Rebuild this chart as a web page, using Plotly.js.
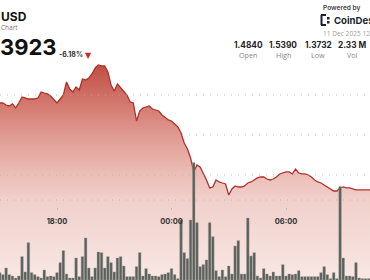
<!DOCTYPE html>
<html>
<head>
<meta charset="utf-8">
<script src="https://cdn.plot.ly/plotly-3.0.1.min.js"></script>
<style>
html,body{margin:0;padding:0;background:#fff;}
#chart{width:370px;height:280px;}
</style>
</head>
<body>
<div id="chart"></div>
<script>
// ---- data (10-minute slots starting 2025-12-10 15:00 UTC) ----
const startTimeUTC = [2025, 11, 10, 15, 0];
const stepMinutes = 10;

const prices = [
  1.4900, 1.4900, 1.4875, 1.4863, 1.4888, 1.4838, 1.4900, 1.4975, 1.4963, 1.4950,
  1.4950, 1.4950, 1.4963, 1.5038, 1.5025, 1.5013, 1.4988, 1.4938, 1.4900, 1.4950,
  1.5000, 1.5163, 1.5075, 1.5038, 1.5100, 1.5063, 1.5200, 1.5188, 1.5213, 1.5263,
  1.5338, 1.5375, 1.5363, 1.5363, 1.5288, 1.5125, 1.5050, 1.5138, 1.5088, 1.5050,
  1.5000, 1.4913, 1.4900, 1.4675, 1.4800, 1.4838, 1.4850, 1.4863, 1.4825, 1.4813,
  1.4800, 1.4750, 1.4713, 1.4688, 1.4675, 1.4638, 1.4600, 1.4525, 1.4400, 1.4325,
  1.4213, 1.4038, 1.4125, 1.4100, 1.4025, 1.3938, 1.3838, 1.3850, 1.3938, 1.3913,
  1.3900, 1.3888, 1.3750, 1.3825, 1.3863, 1.3850, 1.3850, 1.3863, 1.3900, 1.3913,
  1.3938, 1.3963, 1.3975, 1.3975, 1.3950, 1.3938, 1.3950, 1.3975, 1.4013, 1.4025,
  1.4038, 1.4038, 1.4013, 1.4075, 1.4025, 1.4013, 1.4013, 1.4000, 1.3975, 1.3938,
  1.3913, 1.3900, 1.3875, 1.3850, 1.3825, 1.3800, 1.3800, 1.3838, 1.3850, 1.3838,
  1.3838, 1.3825, 1.3813, 1.3813, 1.3813, 1.3813, 1.3813, 1.3813
];

const volumesK = [
  11, 8, 18, 8, 6, 3, 6, 35, 12, 56,
  11, 8, 5, 3, 15, 5, 6, 5, 11, 26,
  44, 9, 3, 3, 33, 5, 35, 63, 18, 5,
  18, 42, 41, 18, 35, 26, 12, 33, 35, 21,
  5, 5, 5, 20, 41, 6, 17, 9, 6, 6,
  5, 8, 9, 11, 17, 8, 2, 90, 41, 32,
  90, 176, 86, 20, 23, 30, 86, 65, 14, 5,
  15, 5, 21, 9, 51, 59, 9, 9, 93, 36,
  41, 6, 3, 17, 9, 6, 12, 6, 6, 23,
  6, 9, 8, 9, 14, 5, 5, 5, 5, 5,
  5, 11, 20, 8, 2, 11, 2, 140, 33, 6,
  6, 5, 26, 3, 2, 2, 2, 2
];

const tickTimes = ['2025-12-10 18:00', '2025-12-11 00:00', '2025-12-11 06:00'];
const tickLabels = ['18:00', '00:00', '06:00'];

const priceGridLevels = [1.50, 1.45, 1.40];
const volumeGridLevels = [120];

const headerPair = 'USD';
const headerSub = 'Chart';
const lastPriceShown = '3923';
const changePct = '-6.18%';
const statValues = ['1.4840', '1.5390', '1.3732', '2.33 M'];
const statLabels = ['Open', 'High', 'Low', 'Vol'];
const poweredBy = 'Powered by';
const brand = 'CoinDesk';
const stamp = '11 Dec 2025 12';

// ---- build times ----
function slotTime(i) {
  const t0 = Date.UTC.apply(null, startTimeUTC);
  const d = new Date(t0 + i * stepMinutes * 60000);
  return d.toISOString().slice(0, 16).replace('T', ' ');
}
const times = prices.map((_, i) => slotTime(i));

const W = 370, H = 280;
const px = v => v / W;
const py = v => 1 - v / H;

const priceTrace = {
  type: 'scatter', mode: 'lines', x: times, y: prices,
  xaxis: 'x', yaxis: 'y',
  line: {color: '#b2302a', width: 1.3},
  fill: 'tozeroy',
  fillgradient: {
    type: 'vertical', start: 1.26875, stop: 1.5375,
    colorscale: [
      [0, 'rgb(248,232,229)'],
      [0.37, 'rgb(241,208,203)'],
      [0.49, 'rgb(235,190,183)'],
      [0.67, 'rgb(224,155,146)'],
      [0.82, 'rgb(211,120,110)'],
      [1, 'rgb(192,78,68)']
    ]
  },
  hoverinfo: 'skip'
};

const volTrace = {
  type: 'bar', x: times, y: volumesK,
  xaxis: 'x', yaxis: 'y2',
  marker: {color: 'rgb(92,96,91)', line: {color: 'rgb(150,152,148)', width: 0.4}},
  hoverinfo: 'skip'
};

const shapes = [];
priceGridLevels.forEach(v => shapes.push({
  type: 'line', xref: 'paper', x0: 0, x1: 1, yref: 'y', y0: v, y1: v,
  layer: 'above', line: {color: 'rgba(175,175,175,0.8)', width: 1, dash: '1px,6px'}
}));
volumeGridLevels.forEach(v => shapes.push({
  type: 'line', xref: 'paper', x0: 0, x1: 1, yref: 'y2', y0: v, y1: v,
  layer: 'above', line: {color: 'rgba(175,175,175,0.8)', width: 1, dash: '1px,6px'}
}));

// CoinDesk mark (small bracket logo)
const logoPath = [
  `M${px(321)},${py(15)} L${px(326)},${py(15)}`,
  `M${px(321.5)},${py(15)} L${px(321.5)},${py(25)}`,
  `M${px(321)},${py(25)} L${px(326)},${py(25)}`
].join(' ');
shapes.push({type: 'path', xref: 'paper', yref: 'paper', path: logoPath, line: {color: '#1b1f2e', width: 2}});
shapes.push({type: 'rect', xref: 'paper', yref: 'paper', x0: px(327), x1: px(329.5), y0: py(17), y1: py(19.5), fillcolor: '#1b1f2e', line: {width: 0}});
shapes.push({type: 'rect', xref: 'paper', yref: 'paper', x0: px(327), x1: px(329.5), y0: py(21), y1: py(23.5), fillcolor: '#1b1f2e', line: {width: 0}});

const F = 'Inter, "Open Sans", sans-serif';
const ann = (text, x, y, opts) => Object.assign({
  text: text, xref: 'paper', yref: 'paper', x: px(x), y: py(y),
  showarrow: false, xanchor: 'left', yanchor: 'middle',
  font: {family: F, size: 8, color: '#222'}
}, opts || {});

const annotations = [
  ann(headerPair, -1, 16.5, {font: {family: F, size: 12, color: '#111', weight: 700}}),
  ann(headerSub, -1, 27.5, {font: {family: '"Open Sans", sans-serif', size: 6.5, color: '#777'}}),
  ann(lastPriceShown, -2, 47, {font: {family: F, size: 22, color: '#111', weight: 700}}),
  ann(changePct, 57, 55, {font: {family: F, size: 7, color: '#333', weight: 700}}),
  ann('▼', 88.5, 55.5, {xanchor: 'center', font: {family: '"DejaVu Sans", sans-serif', size: 8, color: '#c62828'}}),
  ann(poweredBy, 321, 7.5, {font: {family: F, size: 6.6, color: '#444', weight: 600}}),
  ann(brand, 332, 20.5, {font: {family: F, size: 9.6, color: '#1b1f2e', weight: 700}}),
  ann(stamp, 321, 33.5, {font: {family: '"Open Sans", sans-serif', size: 6.6, color: '#a0a0a0'}})
];
const statCenters = [248, 283, 318, 352];
statValues.forEach((v, i) => {
  annotations.push(ann(v, statCenters[i], 44.5, {xanchor: 'center', font: {family: F, size: 8.3, color: '#222', weight: 700}}));
  annotations.push(ann(statLabels[i], statCenters[i], 55, {xanchor: 'center', font: {family: '"Open Sans", sans-serif', size: 7.2, color: '#888'}}));
});

const layout = {
  width: W, height: H,
  margin: {l: 0, r: 0, t: 0, b: 0, pad: 0},
  paper_bgcolor: '#fff', plot_bgcolor: '#fff',
  showlegend: false,
  bargap: 0.2,
  xaxis: {
    type: 'date',
    range: ['2025-12-10 15:00:47', '2025-12-11 10:24:07'],
    anchor: 'free', position: 1 - 207 / H,
    tickvals: tickTimes, ticktext: tickLabels,
    ticks: 'outside', ticklen: 2, tickwidth: 1, tickcolor: '#bbb',
    ticklabelstandoff: 5,
    showgrid: false, zeroline: false, showline: false,
    tickfont: {family: F, size: 7.5, color: '#333', weight: 700}
  },
  yaxis: {
    range: [1.26875, 1.61875], visible: false, fixedrange: true,
    showgrid: false, zeroline: false
  },
  yaxis2: {
    range: [0, 420], overlaying: 'y', visible: false,
    showgrid: false, zeroline: false
  },
  shapes: shapes,
  annotations: annotations
};

Plotly.newPlot('chart', [priceTrace, volTrace], layout, {staticPlot: true, displayModeBar: false});
</script>
</body>
</html>
